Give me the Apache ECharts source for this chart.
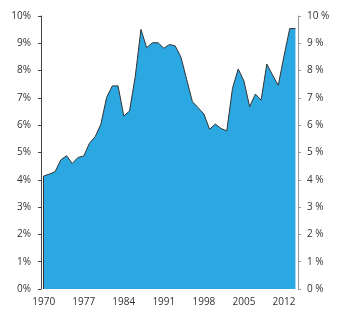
<!DOCTYPE html>
<html><head><meta charset="utf-8">
<script src="https://cdn.jsdelivr.net/npm/echarts@6/dist/echarts.min.js"></script>
<style>html,body{margin:0;padding:0;background:#fff}#c{width:345px;height:320px}</style>
</head><body><div id="c"></div>
<script>
const years = [1970,1971,1972,1973,1974,1975,1976,1977,1978,1979,1980,1981,1982,1983,1984,1985,1986,1987,1988,1989,1990,1991,1992,1993,1994,1995,1996,1997,1998,1999,2000,2001,2002,2003,2004,2005,2006,2007,2008,2009,2010,2011,2012,2013,2014];
const values = [4.14,4.21,4.30,4.73,4.88,4.60,4.82,4.87,5.34,5.58,6.04,7.02,7.44,7.44,6.34,6.52,7.78,9.51,8.84,9.02,9.02,8.82,8.96,8.90,8.49,7.67,6.86,6.64,6.41,5.85,6.04,5.88,5.79,7.35,8.06,7.62,6.68,7.14,6.92,8.24,7.84,7.46,8.53,9.54,9.54];
const xLabels = [1970,1977,1984,1991,1998,2005,2012];
const yTicks = [0,1,2,3,4,5,6,7,8,9,10];

const chart = echarts.init(document.getElementById('c'), null, {renderer:'canvas'});
const font = {fontFamily:'Open Sans', fontSize:10, color:'#333'};
chart.setOption({
  animation:false,
  grid:{left:41, right:47, top:16, bottom:31, containLabel:false},
  xAxis:{type:'value', min:1969.53, max:2014.45,
    axisLine:{show:false}, axisTick:{show:false}, splitLine:{show:false},
    axisLabel:Object.assign({customValues:xLabels, margin:8, formatter:v=>String(v)}, font)},
  yAxis:[
    {type:'value', min:0, max:10, interval:1, position:'left',
      axisLine:{show:true, lineStyle:{color:'#444', width:1}},
      axisTick:{show:true, length:3, lineStyle:{color:'#444'}},
      splitLine:{show:false},
      axisLabel:Object.assign({margin:10, formatter:v=>v+'%'}, font)},
    {type:'value', min:0, max:10, interval:1, position:'right',
      axisLine:{show:true, lineStyle:{color:'#999', width:1}},
      axisTick:{show:true, length:3, lineStyle:{color:'#999'}},
      splitLine:{show:false},
      axisLabel:Object.assign({margin:9, formatter:v=>v+' %'}, font)}
  ],
  series:[{
    type:'line', data:years.map((y,i)=>[y,values[i]]), symbol:'none',
    lineStyle:{color:'#333', width:1}, areaStyle:{color:'#2BA7E2', opacity:1},
    markLine:{silent:true, symbol:'none', label:{show:false},
      lineStyle:{color:'#333', width:1, type:'solid'},
      data:[[{coord:[years[0],0]},{coord:[years[0],values[0]]}]]}
  }]
});
</script></body></html>
